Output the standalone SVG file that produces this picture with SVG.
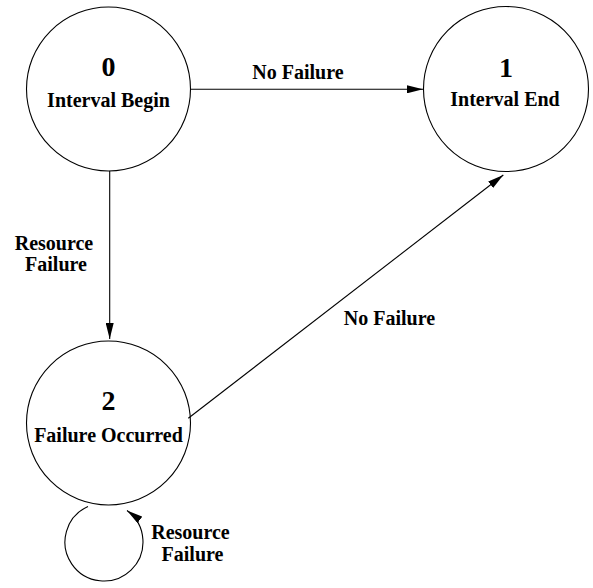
<svg xmlns="http://www.w3.org/2000/svg" width="593" height="588" viewBox="0 0 593 588">
<defs>
<style>
.node{fill:none;stroke:#000;stroke-width:1.1}
.edge{fill:none;stroke:#000;stroke-width:1.1}
.t{font-family:"Liberation Serif","Times New Roman",serif;font-weight:bold;fill:#000;text-anchor:middle}
.num{font-size:28px}
.lbl{font-size:20px}
</style>
<marker id="ah" markerUnits="userSpaceOnUse" markerWidth="16" markerHeight="8" refX="16" refY="4" orient="auto">
<path d="M0,0 L16,4 L0,8 z" fill="#000"/>
</marker>
</defs>
<rect width="593" height="588" fill="#fff"/>
<g id="node0">
<circle class="node" cx="108.5" cy="89" r="82"/>
<text class="t num" x="108.5" y="76">0</text>
<text class="t lbl" x="108.5" y="107">Interval Begin</text>
</g>
<g id="node1">
<circle class="node" cx="506" cy="89" r="82.5"/>
<text class="t num" x="506" y="77">1</text>
<text class="t lbl" x="505" y="106">Interval End</text>
</g>
<g id="node2">
<circle class="node" cx="108.5" cy="423" r="82"/>
<text class="t num" x="108.5" y="410">2</text>
<text class="t lbl" x="108.5" y="441.5">Failure Occurred</text>
</g>
<g id="connectors">
<line class="edge" x1="191" y1="89.3" x2="423" y2="89.3" marker-end="url(#ah)"/>
<text class="t lbl" x="298" y="79">No Failure</text>
<line class="edge" x1="109.7" y1="171" x2="109.7" y2="339" marker-end="url(#ah)"/>
<text class="t lbl" x="54" y="250">Resource</text>
<text class="t lbl" x="56" y="271">Failure</text>
<line class="edge" x1="188.3" y1="418.3" x2="503.3" y2="175" marker-end="url(#ah)"/>
<text class="t lbl" x="389.5" y="325">No Failure</text>
<path class="edge" d="M88,506.4 A39,39 0 1 0 127,510.5" marker-end="url(#ah)"/>
<text class="t lbl" x="190.5" y="539">Resource</text>
<text class="t lbl" x="192.5" y="561">Failure</text>
</g>
</svg>
